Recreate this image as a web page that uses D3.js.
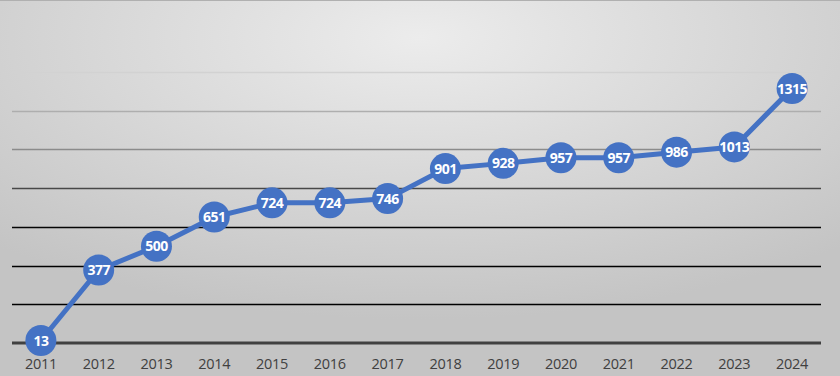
<!DOCTYPE html>
<html>
<head>
<meta charset="utf-8">
<script src="https://cdn.jsdelivr.net/npm/d3@7"></script>
<style>
  body { margin: 0; }
  svg { display: block; }
</style>
</head>
<body>
<div id="chart"></div>
<script>
const years = ["2011", "2012", "2013", "2014", "2015", "2016", "2017", "2018", "2019", "2020", "2021", "2022", "2023", "2024"];
const values = [13, 377, 500, 651, 724, 724, 746, 901, 928, 957, 957, 986, 1013, 1315];
const yTicks = [0, 200, 400, 600, 800, 1000, 1200, 1400];

const width = 840, height = 376;

const svg = d3.select("#chart")
    .append("svg")
    .attr("width", width)
    .attr("height", height);

const defs = svg.append("defs");
const bg = defs.append("radialGradient")
    .attr("id", "bg")
    .attr("cx", "50%").attr("cy", "10%").attr("r", "75%");
bg.append("stop").attr("offset", "0%").attr("stop-color", "#ececec");
bg.append("stop").attr("offset", "100%").attr("stop-color", "#c4c4c4");

svg.append("rect")
    .attr("width", width)
    .attr("height", height)
    .attr("fill", "url(#bg)");

svg.append("line")
    .attr("x1", 0).attr("x2", width)
    .attr("y1", 0.5).attr("y2", 0.5)
    .attr("stroke", "#b0b0b0");

const x = d3.scaleBand()
    .domain(years)
    .range([12, 821]);

const y = d3.scaleLinear()
    .domain([0, 1400])
    .range([343, 72]);

// gridlines fade from light at the top to black lower down
const gridColor = d3.scaleLinear()
    .domain([72, 150, 230])
    .range(["#d2d2d2", "#8a8a8a", "#000000"])
    .clamp(true);

svg.append("g")
    .selectAll("line")
    .data(yTicks.filter(d => d > 0))
    .enter()
    .append("line")
    .attr("x1", x.range()[0])
    .attr("x2", x.range()[1])
    .attr("y1", d => Math.round(y(d)) + 0.5)
    .attr("y2", d => Math.round(y(d)) + 0.5)
    .attr("stroke", d => gridColor(y(d)))
    .attr("stroke-width", 1.3);

svg.append("line")
    .attr("x1", x.range()[0])
    .attr("x2", x.range()[1])
    .attr("y1", y(0))
    .attr("y2", y(0))
    .attr("stroke", "#404040")
    .attr("stroke-width", 3);

const xAxis = svg.append("g")
    .attr("transform", `translate(0,${y(0)})`)
    .call(d3.axisBottom(x).tickSize(0).tickPadding(16));
xAxis.select(".domain").remove();
xAxis.selectAll("text")
    .attr("fill", "#404040")
    .style("font-family", "'Open Sans', sans-serif")
    .style("font-size", "14.5px")
    .style("letter-spacing", "-0.3px");

const cx = d => x(d) + x.bandwidth() / 2;

const line = d3.line()
    .x((d, i) => cx(years[i]))
    .y(d => y(d));

svg.append("path")
    .datum(values)
    .attr("fill", "none")
    .attr("stroke", "#4472c4")
    .attr("stroke-width", 5)
    .attr("stroke-linejoin", "round")
    .attr("d", line);

const pts = svg.append("g")
    .selectAll("g")
    .data(values)
    .enter()
    .append("g")
    .attr("transform", (d, i) => `translate(${cx(years[i])},${y(d)})`);

pts.append("circle")
    .attr("r", 15.5)
    .attr("fill", "#4472c4");

pts.append("text")
    .attr("text-anchor", "middle")
    .attr("dy", "0.36em")
    .attr("fill", "#ffffff")
    .style("font-family", "'Open Sans', sans-serif")
    .style("font-weight", "bold")
    .style("font-size", "14px")
    .style("letter-spacing", "-0.5px")
    .text(d => d);
</script>
</body>
</html>
